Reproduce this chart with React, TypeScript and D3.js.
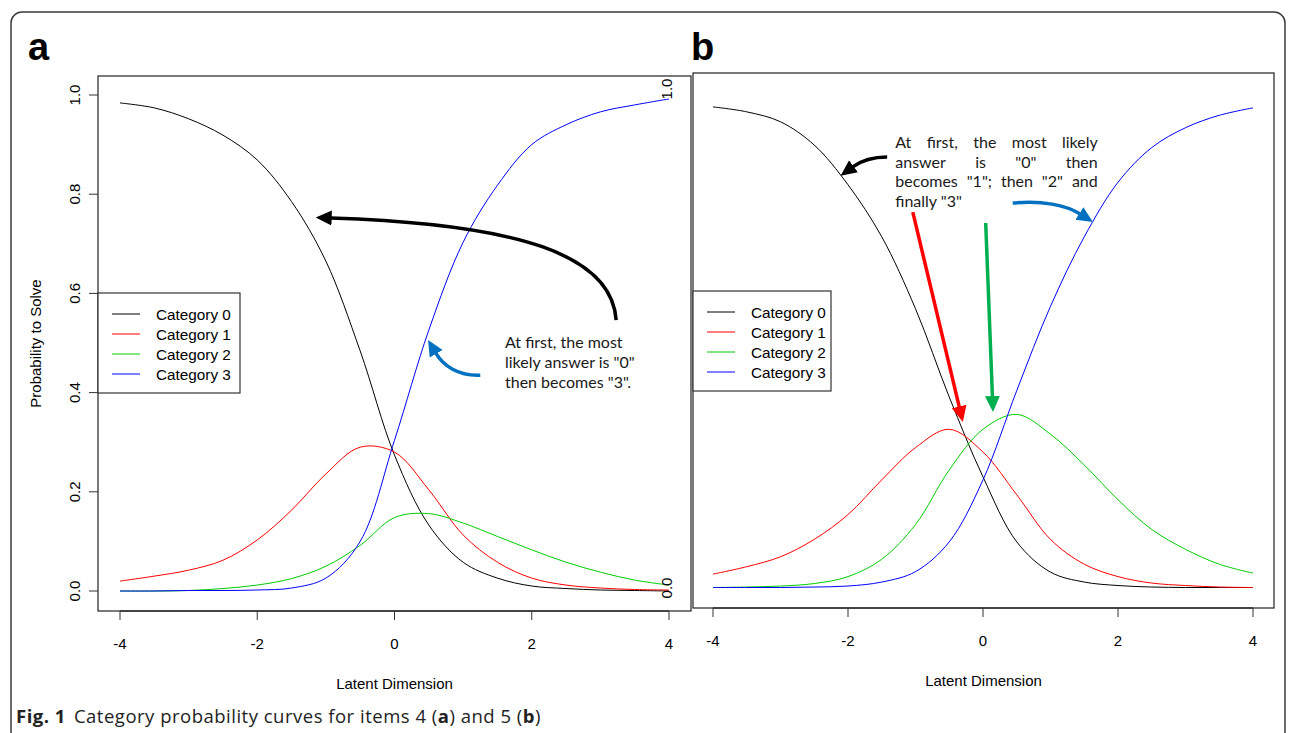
import React from "react";
import * as d3 from "d3";

// latent trait grid shared by both items
const theta = [-4, -3.5, -3, -2.5, -2, -1.5, -1, -0.5, 0, 0.5, 1, 1.5, 2, 2.5, 3, 3.5, 4];
const categories = ["Category 0", "Category 1", "Category 2", "Category 3"];
const catColors = ["#000000", "#ff0000", "#00cd00", "#0000ff"];
const xTicks = [-4, -2, 0, 2, 4];
const yTicks = [0, 0.2, 0.4, 0.6, 0.8, 1.0];

// item 4 (panel a)
const item4Cat0 = [0.984, 0.974, 0.952, 0.919, 0.869, 0.785, 0.665, 0.484, 0.274, 0.133, 0.058, 0.026, 0.01, 0.005, 0.002, 0.001, 0.0];
const item4Cat1 = [0.02, 0.03, 0.042, 0.062, 0.103, 0.163, 0.236, 0.29, 0.28, 0.204, 0.113, 0.058, 0.026, 0.012, 0.006, 0.003, 0.002];
const item4Cat2 = [0.0, 0.0, 0.001, 0.005, 0.012, 0.025, 0.05, 0.092, 0.148, 0.156, 0.137, 0.11, 0.083, 0.058, 0.038, 0.022, 0.012];
const item4Cat3 = [0.0, 0.0, 0.001, 0.001, 0.002, 0.006, 0.026, 0.1, 0.304, 0.526, 0.703, 0.818, 0.9, 0.94, 0.966, 0.98, 0.992];

// item 5 (panel b)
const item5Cat0 = [0.972, 0.962, 0.942, 0.895, 0.815, 0.71, 0.565, 0.387, 0.226, 0.095, 0.034, 0.014, 0.007, 0.004, 0.003, 0.003, 0.003];
const item5Cat1 = [0.03, 0.045, 0.065, 0.1, 0.15, 0.22, 0.285, 0.322, 0.276, 0.19, 0.1, 0.05, 0.025, 0.012, 0.007, 0.004, 0.003];
const item5Cat2 = [0.003, 0.004, 0.006, 0.011, 0.025, 0.06, 0.13, 0.24, 0.322, 0.352, 0.312, 0.25, 0.18, 0.12, 0.08, 0.05, 0.032];
const item5Cat3 = [0.003, 0.003, 0.003, 0.004, 0.006, 0.014, 0.035, 0.095, 0.22, 0.4, 0.57, 0.71, 0.82, 0.89, 0.93, 0.955, 0.97];

// annotation arrows, in (theta, probability) units
const notesA = [
  { color: "#000000", pts: [[3.23, 0.546], [3.17, 0.677], [1.83, 0.74], [-0.93, 0.752]] },
  { color: "#0070c0", pts: [[1.25, 0.435], [0.93, 0.433], [0.71, 0.454], [0.6, 0.48]] },
];
const notesB = [
  { color: "#000000", pts: [[-1.42, 0.871], [-1.64, 0.871], [-1.79, 0.865], [-1.93, 0.851]] },
  { color: "#ff0000", pts: [[-1.04, 0.76], [-0.35, 0.366]] },
  { color: "#00b050", pts: [[0.04, 0.738], [0.14, 0.387]] },
  { color: "#0070c0", pts: [[0.44, 0.778], [0.87, 0.784], [1.23, 0.774], [1.44, 0.756]] },
];
const noteTextA = ["At first, the most", "likely answer is \"0\"", "then becomes \"3\"."];
const noteTextB = ["At first, the most likely", "answer is \"0\" then", "becomes \"1\"; then \"2\" and", "finally \"3\""];

const FONT = "'Liberation Sans', Arial, sans-serif";
const NOTE_FONT = "Lato, sans-serif";
const NOTE_SIZE = 16;

let measureCtx: CanvasRenderingContext2D | null = null;
function textWidth(s: string) {
  if (!measureCtx) measureCtx = document.createElement("canvas").getContext("2d");
  if (!measureCtx) return s.length * 8;
  measureCtx.font = `${NOTE_SIZE}px ${NOTE_FONT}`;
  return measureCtx.measureText(s).width;
}

const arrowId = (c: string) => "head" + c.replace("#", "");

function Panel({ spec }: { spec: any }) {
  const { box, xRange, yRange, series, legend, letter, showY } = spec;
  const x = d3.scaleLinear().domain([-4, 4]).range(xRange);
  const y = d3.scaleLinear().domain([0, 1]).range(yRange);
  const line = d3
    .line<number>()
    .x((_, i) => x(theta[i]))
    .y((d) => y(d))
    .curve(d3.curveCatmullRom.alpha(0.5));

  const notePath = (pts: number[][]) => {
    const p = pts.map(([a, b]) => [x(a), y(b)]);
    if (p.length === 2) return `M${p[0]}L${p[1]}`;
    return `M${p[0]}C${p[1]} ${p[2]} ${p[3]}`;
  };

  const midX = (box.left + box.right) / 2;
  const lx = legend.left;
  return (
    <g>
      <text x={letter.x} y={letter.y} fontFamily={FONT} fontWeight="bold" fontSize={38}>
        {letter.text}
      </text>
      <rect x={box.left} y={box.top} width={box.right - box.left} height={box.bottom - box.top}
        fill="#fff" stroke="#222" strokeWidth={1.2} />
      {series.map((s: number[], i: number) => (
        <path key={i} d={line(s) || ""} fill="none" stroke={catColors[i]} strokeWidth={1} />
      ))}
      {/* x axis */}
      <line x1={x(-4)} x2={x(4)} y1={box.bottom} y2={box.bottom} stroke="#333" strokeWidth={1.4} />
      {xTicks.map((t) => (
        <g key={t}>
          <line x1={x(t)} x2={x(t)} y1={box.bottom} y2={box.bottom + 9} stroke="#333" />
          <text x={x(t)} y={box.bottom + 38} textAnchor="middle" fontFamily={FONT} fontSize={15}>
            {t}
          </text>
        </g>
      ))}
      <text x={midX} y={box.bottom + 78} textAnchor="middle" fontFamily={FONT} fontSize={15}>
        Latent Dimension
      </text>
      {showY && (
        <g>
          {yTicks.map((t) => (
            <g key={t}>
              <line x1={box.left - 9} x2={box.left} y1={y(t)} y2={y(t)} stroke="#333" />
              <text transform={`translate(${box.left - 18},${y(t)}) rotate(-90)`} textAnchor="middle"
                fontFamily={FONT} fontSize={15}>
                {t.toFixed(1)}
              </text>
            </g>
          ))}
          <text transform={`translate(41,${(box.top + box.bottom) / 2}) rotate(-90)`} textAnchor="middle"
            fontFamily={FONT} fontSize={15}>
            Probability to Solve
          </text>
          {/* stray labels printed on the right edge of the original */}
          <text transform={`translate(${x(4) + 3},${y(1) - 6}) rotate(-90)`} textAnchor="middle"
            fontFamily={FONT} fontSize={15}>1.0</text>
          <text transform={`translate(${x(4) + 3},${y(0) - 3}) rotate(-90)`} textAnchor="middle"
            fontFamily={FONT} fontSize={15}>0.0</text>
        </g>
      )}
      {/* legend */}
      <rect x={lx} y={legend.top} width={legend.width} height={100} fill="#fff" stroke="#333" strokeWidth={1.2} />
      {categories.map((c, i) => (
        <g key={c}>
          <line x1={lx + 14} x2={lx + 42} y1={legend.top + 21 + i * 20} y2={legend.top + 21 + i * 20}
            stroke={catColors[i]} strokeWidth={1} />
          <text x={lx + 58} y={legend.top + 26.5 + i * 20} fontFamily={FONT} fontSize={15.3}>
            {c}
          </text>
        </g>
      ))}
      {/* annotations */}
      {spec.notes.map((n: any, i: number) => (
        <path key={i} d={notePath(n.pts)} fill="none" stroke={n.color} strokeWidth={3.5}
          markerEnd={`url(#${arrowId(n.color)})`} />
      ))}
      {spec.noteText(x, y)}
    </g>
  );
}

function noteA(x: any, y: any) {
  const x0 = x(1.61);
  const y0 = y(0.49);
  return (
    <g fontFamily={NOTE_FONT} fontSize={NOTE_SIZE} fill="#1a1a1a">
      {noteTextA.map((l, i) => (
        <text key={i} x={x0} y={y0 + i * 20}>{l}</text>
      ))}
    </g>
  );
}

function noteB(x: any, y: any) {
  const left = x(-1.3);
  const right = x(1.7);
  const y0 = y(0.889);
  return (
    <g fontFamily={NOTE_FONT} fontSize={NOTE_SIZE} fill="#1a1a1a">
      {noteTextB.map((l, i) => {
        const words = l.split(" ");
        if (i === noteTextB.length - 1) {
          return <text key={i} x={left} y={y0 + i * 19.5}>{l}</text>;
        }
        const ws = words.map(textWidth);
        const gap = (right - left - d3.sum(ws)) / (words.length - 1);
        let cx = left;
        return (
          <g key={i}>
            {words.map((w, j) => {
              const px = cx;
              cx += ws[j] + gap;
              return <text key={j} x={px} y={y0 + i * 19.5}>{w}</text>;
            })}
          </g>
        );
      })}
    </g>
  );
}

const panels = [
  {
    letter: { text: "a", x: 28, y: 60 },
    box: { left: 98, top: 76, right: 691, bottom: 611 },
    xRange: [120, 669],
    yRange: [591, 95],
    series: [item4Cat0, item4Cat1, item4Cat2, item4Cat3],
    legend: { left: 98, top: 293, width: 142 },
    showY: true,
    notes: notesA,
    noteText: noteA,
  },
  {
    letter: { text: "b", x: 691, y: 60 },
    box: { left: 693, top: 73, right: 1274, bottom: 608 },
    xRange: [713, 1253],
    yRange: [589, 93],
    series: [item5Cat0, item5Cat1, item5Cat2, item5Cat3],
    legend: { left: 693, top: 291, width: 138 },
    showY: false,
    notes: notesB,
    noteText: noteB,
  },
];

export default function App() {
  const colors = Array.from(new Set([...notesA, ...notesB].map((n) => n.color)));
  return (
    <svg width={1295} height={733} style={{ position: "absolute", left: 0, top: 0, background: "#fff" }}>
      <defs>
        {colors.map((c) => (
          <marker key={c} id={arrowId(c)} viewBox="0 -8 16 16" refX={1} refY={0}
            markerWidth={16} markerHeight={16} markerUnits="userSpaceOnUse" orient="auto">
            <path d="M0,-7.5L16,0L0,7.5Z" fill={c} />
          </marker>
        ))}
      </defs>
      <rect x={0} y={0} width={1295} height={733} fill="#fff" />
      <rect x={11} y={12} width={1274} height={730} rx={11} fill="none" stroke="#3a3a3a" strokeWidth={1.5} />
      {panels.map((p, i) => (
        <Panel key={i} spec={p} />
      ))}
      <text x={16} y={723} fontFamily="'Open Sans', 'Noto Sans', sans-serif" fontSize={18.5}
        letterSpacing={0.5} fill="#222">
        <tspan fontWeight="bold">Fig. 1</tspan>
        <tspan dx={8}>Category probability curves for items 4 (</tspan>
        <tspan fontWeight="bold">a</tspan>
        <tspan>) and 5 (</tspan>
        <tspan fontWeight="bold">b</tspan>
        <tspan>)</tspan>
      </text>
    </svg>
  );
}
